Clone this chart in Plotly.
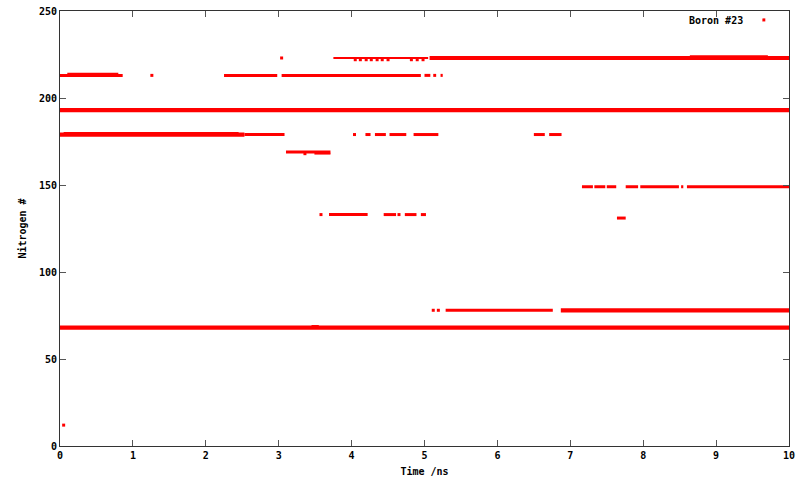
import plotly.graph_objects as go

# ---- data: residence segments of Boron #23 next to each nitrogen (time in ns) ----
# heavily populated (thick) segments
thick_start = [0.00, 0.00, 0.00, 5.07, 6.87]
thick_end   = [10.00, 10.00, 2.53, 10.00, 10.00]
thick_level = [193, 68, 179, 223, 78]

# regular segments
seg_start = [0.00, 2.25, 3.04, 5.00, 5.12, 5.22,
             2.53, 4.19, 4.32, 4.52, 4.85, 6.50, 6.71,
             3.10,
             3.69, 4.44, 4.73, 4.95,
             7.16, 7.33, 7.50, 7.76, 7.96, 8.52, 8.60,
             7.64,
             5.29]
seg_end   = [0.86, 2.98, 4.95, 5.08, 5.16, 5.25,
             3.08, 4.26, 4.47, 4.75, 5.19, 6.65, 6.88,
             3.71,
             4.22, 4.61, 4.89, 5.02,
             7.31, 7.48, 7.63, 7.93, 8.49, 8.55, 10.00,
             7.76,
             6.76]
seg_level = [213, 213, 213, 213, 213, 213,
             179, 179, 179, 179, 179, 179, 179,
             169,
             133, 133, 133, 133,
             149, 149, 149, 149, 149, 149, 149,
             131,
             78]

# sparse (thin) segments
thin_start = [3.75, 8.64, 0.10, 3.49, 0.05, 3.45]
thin_end   = [5.05, 9.71, 0.80, 3.71, 2.45, 3.55]
thin_level = [223, 224, 214, 168, 180, 69]

# isolated samples
pt_time  = [1.26, 3.04, 4.04, 3.58, 4.65, 5.12, 5.19, 0.05, 3.36,
            4.05, 4.12, 4.20, 4.27, 4.35, 4.42, 4.50, 4.82, 4.90, 4.98]
pt_level = [213, 223, 179, 133, 133, 78, 78, 12, 168,
            222, 222, 222, 222, 222, 222, 222, 222, 222, 222]

x_ticks = [0, 1, 2, 3, 4, 5, 6, 7, 8, 9, 10]
y_ticks = [0, 50, 100, 150, 200, 250]

RED = "#ff0000"


def seg_xy(starts, ends, levels):
    xs, ys = [], []
    for s, e, l in zip(starts, ends, levels):
        xs += [s, e, None]
        ys += [l, l, None]
    return xs, ys


fig = go.Figure()
for (st, en, lv), w in [((thick_start, thick_end, thick_level), 4.2),
                        ((seg_start, seg_end, seg_level), 3.0),
                        ((thin_start, thin_end, thin_level), 1.8)]:
    xs, ys = seg_xy(st, en, lv)
    fig.add_trace(go.Scatter(x=xs, y=ys, mode="lines",
                             line=dict(color=RED, width=w),
                             showlegend=False, hoverinfo="skip"))

fig.add_trace(go.Scatter(x=pt_time, y=pt_level, mode="markers",
                         marker=dict(color=RED, size=3, symbol="square",
                                     line=dict(width=0)),
                         showlegend=False))

font = dict(family="DejaVu Sans Mono", size=10, color="black", weight="bold")

axis_common = dict(showgrid=False, zeroline=False, showline=True,
                   linecolor="#333333", linewidth=1, mirror="allticks",
                   ticks="inside", ticklen=6, tickcolor="#555555",
                   tickfont=font, automargin=False, ticklabeloverflow="allow")

fig.update_xaxes(range=[0, 10], tickvals=x_ticks,
                 title=dict(text="Time /ns", font=font, standoff=7),
                 **axis_common)
fig.update_yaxes(range=[0, 250], tickvals=y_ticks,
                 title=dict(text="Nitrogen #", font=font, standoff=10),
                 **axis_common)

# gnuplot-style key: text then sample marker
fig.add_annotation(x=0.9397, y=0.979, xref="paper", yref="paper",
                   text="Boron #23", showarrow=False, xanchor="right",
                   yanchor="middle", font=font)
fig.add_shape(type="rect", xref="paper", yref="paper",
              x0=0.9635, x1=0.9675, y0=0.976, y1=0.983,
              fillcolor=RED, line=dict(width=0))

fig.update_layout(width=800, height=480,
                  margin=dict(l=60, r=11, t=11, b=34),
                  plot_bgcolor="white", paper_bgcolor="white",
                  showlegend=False)

# remove the page's default body margin so the figure fills the window
fig.write_html("out.html",
               config={"displayModeBar": False},
               post_script="document.body.style.margin='0';"
                           "document.body.style.overflow='hidden';")
